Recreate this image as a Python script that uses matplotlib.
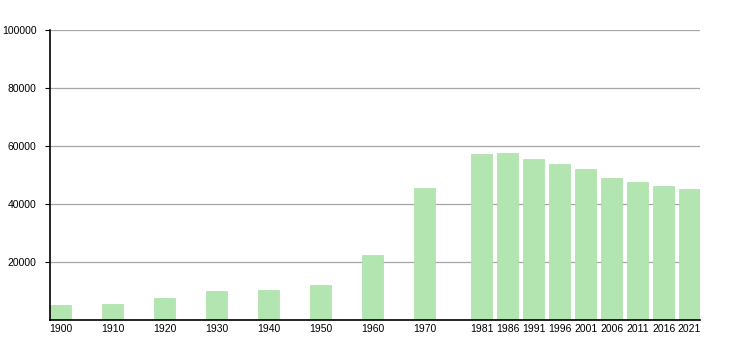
import matplotlib
matplotlib.use("Agg")
import matplotlib.pyplot as plt

# population by census year
years = [1900, 1910, 1920, 1930, 1940, 1950, 1960, 1970,
         1981, 1986, 1991, 1996, 2001, 2006, 2011, 2016, 2021]
population = [5300, 5600, 7700, 10100, 10500, 12100, 22500, 45500,
              57300, 57600, 55500, 53800, 52100, 48900, 47600, 46200, 45200]
y_ticks = [20000, 40000, 60000, 80000, 100000]

BAR_COLOR = "#b2e5b0"
GRID_COLOR = "#a6a6a6"

plt.rcParams["font.family"] = ["Liberation Sans", "DejaVu Sans"]

fig = plt.figure(figsize=(7.5, 3.5), dpi=100)
ax = fig.add_axes([50 / 750, 30 / 350, 650 / 750, 290 / 350])

ax.bar(years, population, width=4, color=BAR_COLOR, edgecolor="#abdfa9",
       linewidth=0.5, zorder=2)

ax.set_xlim(1898, 2023)
ax.set_ylim(0, 100000)
ax.set_yticks(y_ticks)
ax.set_yticklabels([str(v) for v in y_ticks])
ax.set_xticks(years)
ax.set_xticklabels([str(y) for y in years])

ax.yaxis.grid(True, color=GRID_COLOR, linewidth=0.9, zorder=0)
ax.set_axisbelow(True)

for side in ("top", "right"):
    ax.spines[side].set_visible(False)
ax.spines["left"].set_linewidth(1.2)
ax.spines["bottom"].set_linewidth(1.2)

ax.tick_params(axis="y", length=3.6, width=0.8, labelsize=7.5, pad=6)
ax.tick_params(axis="x", length=0, labelsize=7.5, pad=3)

fig.savefig("out.png", dpi=100)
plt.close(fig)
